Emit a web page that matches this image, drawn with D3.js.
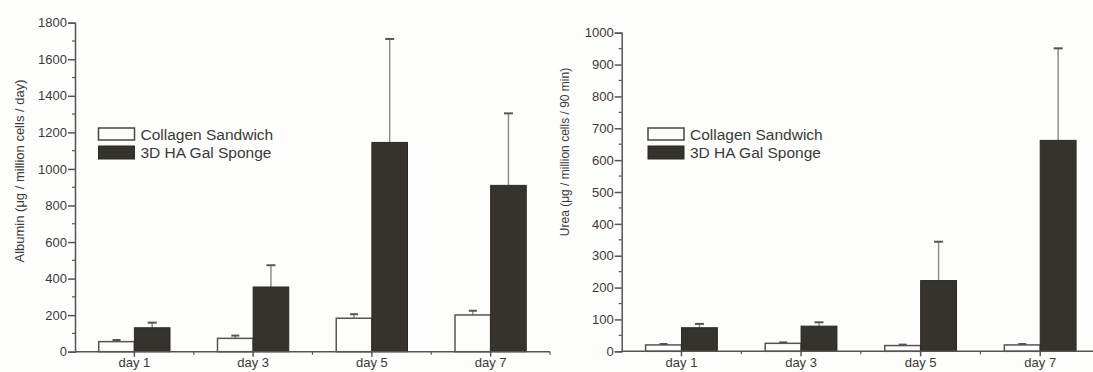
<!DOCTYPE html>
<html>
<head>
<meta charset="utf-8">
<script src="https://cdn.jsdelivr.net/npm/d3@7"></script>
<style>
  html, body { margin: 0; padding: 0; background: #fdfdfb; }
  svg { display: block; }
  text { font-family: "Liberation Sans", Arial, sans-serif; fill: #3a3a3a; }
</style>
</head>
<body>
<svg id="chart" width="1093" height="372"></svg>
<script>
// ---- data ----
const days = ["day 1", "day 3", "day 5", "day 7"];
const seriesNames = ["Collagen Sandwich", "3D HA Gal Sponge"];

const albuminCollagen = [55, 73, 183, 201];
const albuminCollagenErr = [9, 15, 22, 23];
const albuminSponge = [131, 354, 1145, 910];
const albuminSpongeErr = [28, 119, 566, 394];

const ureaCollagen = [20, 25, 18, 20];
const ureaCollagenErr = [3, 3, 3, 3];
const ureaSponge = [74, 79, 222, 662];
const ureaSpongeErr = [12, 12, 122, 289];

const albuminTicks = [0, 200, 400, 600, 800, 1000, 1200, 1400, 1600, 1800];
const ureaTicks = [0, 100, 200, 300, 400, 500, 600, 700, 800, 900, 1000];

const albuminTitle = "Albumin (\u03bcg / million cells / day)";
const ureaTitle = "Urea (\u03bcg / million cells / 90 min)";

// ---- drawing ----
const svg = d3.select("#chart");
const AXIS = "#555";
const DARK = "#36322d";

function panel(cfg) {
  const g = svg.append("g");
  const x = d3.scaleBand().domain(days).range([cfg.x0, cfg.x1]).paddingInner(0).paddingOuter(0);
  const y = d3.scaleLinear().domain([0, cfg.max]).range([cfg.y0, cfg.y1]);
  const bw = x.bandwidth() * 0.3;
  const inner = d3.scaleBand().domain(seriesNames).range([-bw, bw]);

  const rows = days.map((d, i) => ({
    day: d,
    vals: [
      { s: seriesNames[0], v: cfg.a[i], e: cfg.ae[i] },
      { s: seriesNames[1], v: cfg.b[i], e: cfg.be[i] }
    ]
  }));

  // error bars (behind bars)
  rows.forEach(r => {
    r.vals.forEach((o, k) => {
      const cx = x(r.day) + x.bandwidth() / 2 + inner(o.s) + inner.bandwidth() / 2;
      g.append("line")
        .attr("x1", cx).attr("x2", cx)
        .attr("y1", y(o.v)).attr("y2", y(o.v + o.e))
        .attr("stroke", "#8e8e8e").attr("stroke-width", 1.5);
      const cw = k === 0 ? 4 : 4.5;
      g.append("line")
        .attr("x1", cx - cw).attr("x2", cx + cw)
        .attr("y1", y(o.v + o.e)).attr("y2", y(o.v + o.e))
        .attr("stroke", "#555").attr("stroke-width", 2);
    });
  });

  // bars
  rows.forEach(r => {
    r.vals.forEach((o, k) => {
      const bx = x(r.day) + x.bandwidth() / 2 + inner(o.s);
      g.append("rect")
        .attr("x", bx).attr("y", y(o.v))
        .attr("width", inner.bandwidth())
        .attr("height", y(0) - y(o.v))
        .attr("fill", k === 0 ? "#fdfdfb" : DARK)
        .attr("stroke", k === 0 ? "#555" : "#2b2926")
        .attr("stroke-width", k === 0 ? 1.5 : 1);
    });
  });

  // y axis
  const yAxis = d3.axisLeft(y).tickValues(cfg.ticks).tickSize(7).tickPadding(1).tickFormat(d3.format("d"));
  const ya = g.append("g").attr("transform", `translate(${cfg.x0},0)`).call(yAxis);
  ya.select(".domain").attr("stroke", AXIS).attr("stroke-width", 1.5);
  ya.selectAll(".tick line").attr("stroke", AXIS).attr("stroke-width", 1.5);
  ya.selectAll(".tick text").attr("font-size", 13).attr("fill", "#3a3a3a")
    .attr("font-family", "Liberation Sans, Arial, sans-serif");
  // minor y ticks
  const minor = cfg.ticks.slice(0, -1).map((t, i) => (t + cfg.ticks[i + 1]) / 2);
  g.selectAll(".minor-y").data(minor).join("line")
    .attr("x1", cfg.x0 - 3).attr("x2", cfg.x0)
    .attr("y1", d => y(d)).attr("y2", d => y(d))
    .attr("stroke", AXIS).attr("stroke-width", 1.2);

  // x axis
  const xa = g.append("g").attr("transform", `translate(0,${cfg.y0})`)
    .call(d3.axisBottom(x).tickSize(5).tickPadding(3));
  xa.select(".domain").attr("stroke", AXIS).attr("stroke-width", 1.5)
    .attr("d", `M${cfg.x0},0H${cfg.x1}`);
  xa.selectAll(".tick line").attr("stroke", AXIS).attr("stroke-width", 1.5);
  xa.selectAll(".tick text").attr("font-size", 13).attr("fill", "#3a3a3a")
    .attr("font-family", "Liberation Sans, Arial, sans-serif").attr("dy", "0.6em");
  // boundary ticks
  const bounds = days.slice(1).map(d => x(d)).concat([cfg.x1]);
  g.selectAll(".minor-x").data(bounds).join("line")
    .attr("x1", d => d).attr("x2", d => d)
    .attr("y1", cfg.y0).attr("y2", cfg.y0 + 3)
    .attr("stroke", AXIS).attr("stroke-width", 1.2);

  // y title
  g.append("text")
    .attr("transform", `translate(${cfg.titleX},${cfg.titleY}) rotate(-90)`)
    .attr("text-anchor", "middle")
    .attr("font-size", cfg.titleSize)
    .text(cfg.title);

  // legend
  const lg = g.append("g");
  seriesNames.forEach((s, k) => {
    lg.append("rect")
      .attr("x", cfg.legX).attr("y", k === 0 ? 128 : 146)
      .attr("width", 36).attr("height", k === 0 ? 12 : 13)
      .attr("fill", k === 0 ? "#fdfdfb" : DARK)
      .attr("stroke", k === 0 ? "#444" : "#2b2926")
      .attr("stroke-width", k === 0 ? 1.5 : 1);
    lg.append("text")
      .attr("x", cfg.legX + 42).attr("y", k === 0 ? 139.5 : 157.5)
      .attr("font-size", 15.5)
      .text(s);
  });
}

panel({
  x0: 75, x1: 550, y0: 351.7, y1: 22.7, max: 1800, ticks: albuminTicks,
  a: albuminCollagen, ae: albuminCollagenErr, b: albuminSponge, be: albuminSpongeErr,
  title: albuminTitle, titleX: 24, titleY: 171, titleSize: 13, legX: 98.5
});
panel({
  x0: 621.7, x1: 1100, y0: 351.3, y1: 32.7, max: 1000, ticks: ureaTicks,
  a: ureaCollagen, ae: ureaCollagenErr, b: ureaSponge, be: ureaSpongeErr,
  title: ureaTitle, titleX: 569, titleY: 152, titleSize: 12, legX: 648
});
</script>
</body>
</html>
